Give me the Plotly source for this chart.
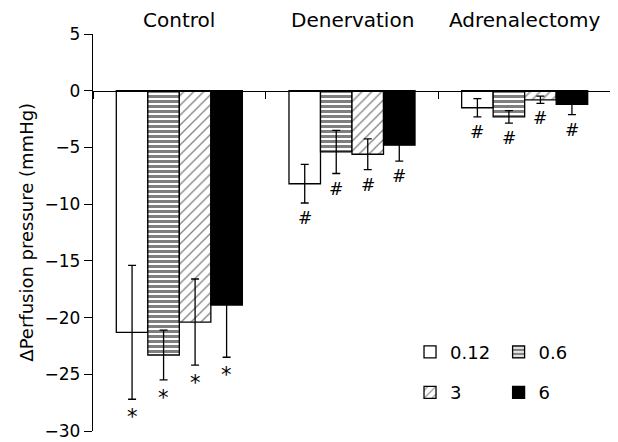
import plotly.graph_objects as go

categories = ["Control", "Denervation", "Adrenalectomy"]
doses = ["0.12", "0.6", "3", "6"]
means = {
    "0.12": [-21.3, -8.2, -1.5],
    "0.6": [-23.3, -5.4, -2.3],
    "3": [-20.4, -5.6, -0.8],
    "6": [-18.9, -4.8, -1.2],
}
errors = {
    "0.12": [5.9, 1.7, 0.8],
    "0.6": [2.2, 1.9, 0.55],
    "3": [3.8, 1.35, 0.32],
    "6": [4.6, 1.4, 0.9],
}
marks = {
    "0.12": ["*", "#", "#"],
    "0.6": ["*", "#", "#"],
    "3": ["*", "#", "#"],
    "6": ["*", "#", "#"],
}
y_ticks = [5, 0, -5, -10, -15, -20, -25, -30]
y_title = "ΔPerfusion pressure (mmHg)"

FONT = "DejaVu Sans"

styles = {
    "0.12": dict(color="white", pattern=dict(shape="")),
    "0.6": dict(color="white", pattern=dict(shape="-", size=5, solidity=0.6, fgcolor="black", bgcolor="white", fillmode="overlay")),
    "3": dict(color="white", pattern=dict(shape="/", size=7, solidity=0.2, fgcolor="#111", bgcolor="white", fillmode="overlay")),
    "6": dict(color="black", pattern=dict(shape="")),
}
legend_of = {"0.12": "legend", "3": "legend", "0.6": "legend2", "6": "legend2"}

fig = go.Figure()
for i, d in enumerate(doses):
    st = styles[d]
    fig.add_trace(go.Bar(
        x=categories, y=means[d], name=d, offsetgroup=str(i),
        legend=legend_of[d], legendgroup=d,
        marker=dict(color=st["color"], pattern=st["pattern"], line=dict(color="black", width=1.3)),
        error_y=dict(type="data", array=errors[d], visible=True, color="black", thickness=1.3, width=4),
    ))

# significance marks
ngroups = len(doses)
gap = 0.27
bar_w = (1 - gap) / ngroups
for i, d in enumerate(doses):
    for j, c in enumerate(categories):
        xoff = -0.5 + gap / 2 + bar_w * (i + 0.5)
        m = marks[d][j]
        fig.add_annotation(
            x=j + xoff, y=means[d][j] - errors[d][j], xref="x", yref="y",
            text=("<i>#</i>" if m == "#" else m), showarrow=False, yanchor="top",
            yshift=(-3 if m == "#" else -4),
            font=dict(family=FONT, size=(17 if m == "#" else 21), color="#000000"),
        )

# category labels on top
for j, c in enumerate(categories):
    fig.add_annotation(x=j, y=1, xref="x", yref="paper", text=c, showarrow=False,
                       yanchor="bottom", yshift=0, font=dict(family=FONT, size=20, color="black"))

# y-axis title
fig.add_annotation(x=-0.129, y=0.5, xref="paper", yref="paper", text=y_title, showarrow=False,
                   textangle=-90, xanchor="center", yanchor="middle",
                   font=dict(family=FONT, size=18, color="black"))

# page body has an 8px margin, so the figure is sized to fit the window
fig.update_layout(
    width=610, height=434,
    margin=dict(l=85, r=7, t=26, b=11, autoexpand=False),
    plot_bgcolor="white", paper_bgcolor="white",
    barmode="group", bargap=gap, bargroupgap=0,
    font=dict(family=FONT, size=17, color="black"),
    xaxis=dict(
        type="category", range=[-0.5, 2.5], anchor="free", position=30 / 35,
        showline=True, linecolor="black", linewidth=1.3,
        ticks="outside", tickson="boundaries", ticklen=7, tickcolor="black", tickwidth=1.3,
        showticklabels=False, showgrid=False, zeroline=False, automargin=False,
    ),
    yaxis=dict(
        range=[-30, 5], tickvals=y_ticks, showline=True, linecolor="black", linewidth=1.3,
        ticks="outside", ticklen=8, tickcolor="black", tickwidth=1.3,
        showgrid=False, zeroline=False, automargin=False,
        tickfont=dict(family=FONT, size=17),
    ),
    legend=dict(x=0.612, y=0.245, xanchor="left", yanchor="top", bgcolor="rgba(0,0,0,0)",
                traceorder="grouped", tracegroupgap=14, font=dict(family=FONT, size=18)),
    legend2=dict(x=0.783, y=0.245, xanchor="left", yanchor="top", bgcolor="rgba(0,0,0,0)",
                 traceorder="grouped", tracegroupgap=14, font=dict(family=FONT, size=18)),
    showlegend=True,
)

fig.write_html("out.html")
